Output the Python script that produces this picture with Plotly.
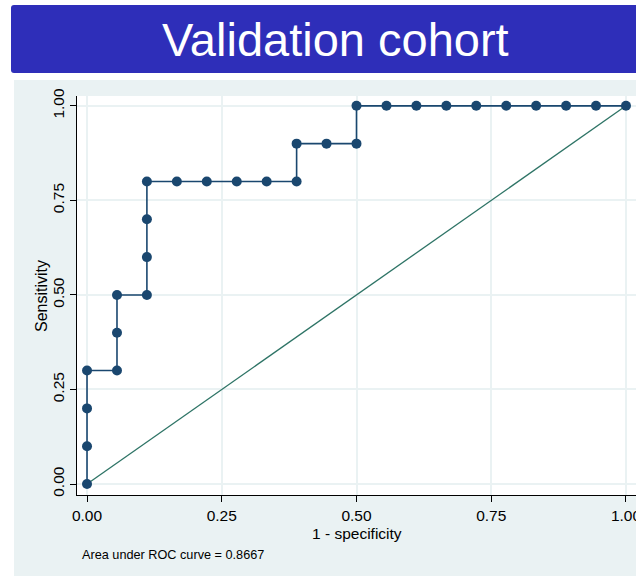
import plotly.graph_objects as go

# Data
fpr = [0, 0, 0, 0, 0.0556, 0.0556, 0.0556, 0.1111, 0.1111, 0.1111, 0.1111,
       0.1667, 0.2222, 0.2778, 0.3333, 0.3889, 0.3889, 0.4444, 0.5, 0.5,
       0.5556, 0.6111, 0.6667, 0.7222, 0.7778, 0.8333, 0.8889, 0.9444, 1.0]
tpr = [0, 0.1, 0.2, 0.3, 0.3, 0.4, 0.5, 0.5, 0.6, 0.7, 0.8,
       0.8, 0.8, 0.8, 0.8, 0.8, 0.9, 0.9, 0.9, 1.0,
       1.0, 1.0, 1.0, 1.0, 1.0, 1.0, 1.0, 1.0, 1.0]
ref_x = [0, 1]
ref_y = [0, 1]
tick_vals = [0, 0.25, 0.5, 0.75, 1.0]
tick_text = ["0.00", "0.25", "0.50", "0.75", "1.00"]
title_text = "Validation cohort"
x_title = "1 - specificity"
y_title = "Sensitivity"
note_text = "Area under ROC curve = 0.8667"

W, H = 636, 579
FONT = "Liberation Sans, Arial, sans-serif"
BG = "#EAF2F3"
NAVY = "#1A476F"
TEAL = "#2E7466"

def px(x):
    return x / W

def py(y):
    return 1 - y / H

fig = go.Figure()
fig.add_trace(go.Scatter(x=ref_x, y=ref_y, mode="lines",
                         line=dict(color=TEAL, width=1.3), showlegend=False,
                         hoverinfo="skip"))
fig.add_trace(go.Scatter(x=fpr, y=tpr, mode="lines+markers",
                         line=dict(color=NAVY, width=1.6),
                         marker=dict(color=NAVY, size=10), showlegend=False))

shapes = [
    # outer graph region background
    dict(type="rect", xref="paper", yref="paper", x0=px(14), x1=px(640),
         y0=py(576), y1=py(80), fillcolor=BG, line=dict(width=0), layer="below"),
    # white plot region
    dict(type="rect", xref="paper", yref="paper", x0=px(77), x1=px(640),
         y0=py(495), y1=py(96), fillcolor="white", line=dict(width=0), layer="below"),
    # title banner with rounded left corners
    dict(type="path", xref="paper", yref="paper",
         path=(f"M {px(14)},{py(5)} L {px(640)},{py(5)} L {px(640)},{py(73)} "
               f"L {px(14)},{py(73)} Q {px(11)},{py(73)} {px(11)},{py(70)} "
               f"L {px(11)},{py(8)} Q {px(11)},{py(5)} {px(14)},{py(5)} Z"),
         fillcolor="#2E2EB9", line=dict(width=0), layer="below"),
]

axis_common = dict(
    tickvals=tick_vals, ticktext=tick_text,
    showgrid=True, gridcolor=BG, gridwidth=1.5, zeroline=False,
    showline=True, linecolor="black", linewidth=1.2,
    ticks="outside", ticklen=6, tickwidth=1, tickcolor="black",
    tickfont=dict(size=15.5, family=FONT),
    automargin=False, ticklabeloverflow="allow",
)

fig.update_layout(
    width=W, height=H,
    margin=dict(l=0, r=0, t=0, b=0, autoexpand=False),
    paper_bgcolor="white", plot_bgcolor="rgba(0,0,0,0)",
    shapes=shapes,
    font=dict(family=FONT, color="black"),
    xaxis=dict(domain=[77 / W, 1], range=[-0.0186, 1.0186], **axis_common),
    yaxis=dict(domain=[84 / H, 483 / H], range=[-0.029, 1.026], tickangle=-90,
               **axis_common),
    annotations=[
        dict(text=title_text, xref="paper", yref="paper", x=px(335), y=py(40),
             xanchor="center", yanchor="middle", showarrow=False,
             font=dict(size=47, color="white", family=FONT)),
        dict(text=x_title, xref="paper", yref="paper", x=px(357), y=py(533),
             xanchor="center", yanchor="middle", showarrow=False,
             font=dict(size=15.5, color="black", family=FONT)),
        dict(text=y_title, xref="paper", yref="paper", x=px(41), y=py(296),
             xanchor="center", yanchor="middle", showarrow=False, textangle=-90,
             font=dict(size=16, color="black", family=FONT)),
        dict(text=note_text, xref="paper", yref="paper", x=px(80), y=py(555),
             xanchor="left", yanchor="middle", showarrow=False,
             font=dict(size=12.7, color="black", family=FONT)),
    ],
)

fig.write_html("out.html")
